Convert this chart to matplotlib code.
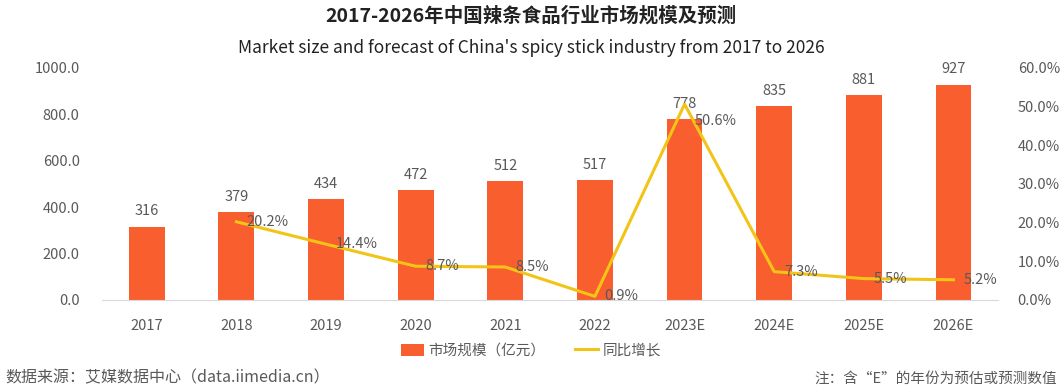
import matplotlib.pyplot as plt
import numpy as np

plt.rcParams['font.family'] = ['Noto Sans CJK SC', 'DejaVu Sans']

# data
years = ['2017', '2018', '2019', '2020', '2021', '2022', '2023E', '2024E', '2025E', '2026E']
market_size = [316, 379, 434, 472, 512, 517, 778, 835, 881, 927]
growth_years = ['2018', '2019', '2020', '2021', '2022', '2023E', '2024E', '2025E', '2026E']
growth = [20.2, 14.4, 8.7, 8.5, 0.9, 50.6, 7.3, 5.5, 5.2]

bar_col = '#F95E2E'
line_col = '#F2C417'
txt_col = '#595959'

fig = plt.figure(figsize=(10.62, 3.92), dpi=100)
ax = fig.add_axes([0.096, 0.235, 0.844, 0.592])
ax2 = ax.twinx()

x = np.arange(len(years))
bars = ax.bar(x, market_size, width=0.4, color=bar_col, label='市场规模（亿元）', zorder=2)
for xi, v in zip(x, market_size):
    ax.annotate(str(v), (xi, v), xytext=(0, 6), textcoords='offset points',
                ha='center', va='bottom', fontsize=10.5, color=txt_col)

gx = [years.index(g) for g in growth_years]
line, = ax2.plot(gx, growth, color=line_col, lw=2.2, label='同比增长', zorder=3)
for xi, v in zip(gx, growth):
    dy = -12 if v > 40 else 0
    ax2.annotate(f'{v:.1f}%', (xi, v), xytext=(7, dy), textcoords='offset points',
                 ha='left', va='center', fontsize=10.5, color=txt_col)

ax.set_xlim(-0.5, len(years) - 0.5)
ax.set_ylim(0, 1000)
ax2.set_ylim(0, 60)
ax.set_yticks(np.arange(0, 1001, 200))
ax.set_yticklabels([f'{t:.1f}' for t in np.arange(0, 1001, 200)])
ax2.set_yticks(np.arange(0, 61, 10))
ax2.set_yticklabels([f'{t:.1f}%' for t in np.arange(0, 61, 10)])
ax.set_xticks(x)
ax.set_xticklabels(years)

for a in (ax, ax2):
    for s in a.spines.values():
        s.set_visible(False)
    a.tick_params(length=0, labelsize=10.5, labelcolor=txt_col)
ax.spines['bottom'].set_visible(True)
ax.spines['bottom'].set_color('#D9D9D9')
ax.tick_params(axis='y', pad=16)
ax.tick_params(axis='x', pad=14)
ax2.tick_params(axis='y', pad=14)

ax.set_zorder(ax2.get_zorder() - 1)
ax2.patch.set_visible(False)
ax.patch.set_visible(False)

fig.text(0.5, 0.96, '2017-2026年中国辣条食品行业市场规模及预测', ha='center', va='center',
         fontsize=14, fontweight='bold', color='#222222')
fig.text(0.5, 0.877, "Market size and forecast of China's spicy stick industry from 2017 to 2026",
         ha='center', va='center', fontsize=12.5, color='#222222')

fig.legend(handles=[bars, line], loc='center', bbox_to_anchor=(0.5, 0.105), ncol=2,
           frameon=False, fontsize=10.5, handlelength=1.6, handleheight=0.9,
           columnspacing=2.0, handletextpad=0.3, labelcolor=txt_col)

fig.text(0.005, 0.035, '数据来源：艾媒数据中心（data.iimedia.cn）', ha='left', va='center',
         fontsize=11.5, color=txt_col)
fig.text(0.995, 0.035, '注：含“E”的年份为预估或预测数值', ha='right', va='center',
         fontsize=10.5, color=txt_col)

fig.savefig('out.png', dpi=100)
